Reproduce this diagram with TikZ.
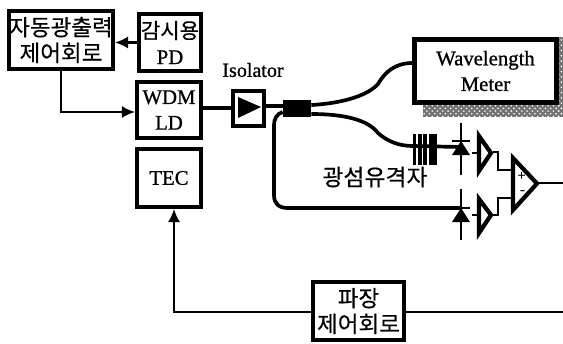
\documentclass[tikz,border=0pt]{standalone}
\usepackage{fontspec}
\setmainfont{Liberation Serif}[RawFeature={embolden=0.9}]
\newfontfamily\kr{Noto Sans CJK KR}[RawFeature={embolden=0.4}]
\usetikzlibrary{arrows.meta,patterns}
\def\pu{0.02cm}
\tikzset{
  bx/.style={draw=black,line width=2.3pt,fill=white,inner sep=0pt,align=center,font=\fontsize{11.8}{14.6}\selectfont},
  sig/.style={draw=black,line width=1.2pt},
  fib/.style={draw=black,line width=2.1pt},
  tip/.style={-{Latex[length=7.5pt,width=7pt]}},
  lab/.style={inner sep=0pt,font=\fontsize{11.4}{14.6}\selectfont},
  tri/.style={draw=black,line width=2.4pt,fill=white,line join=miter}
}
\begin{document}
\begin{tikzpicture}[x=0.02cm,y=-0.02cm]
\useasboundingbox (0,0) rectangle (563,343);
% boxes
\node[bx,minimum width=104*\pu,minimum height=58*\pu] (apc) at (61,40) {{\kr\fontsize{12.8}{14.6}\selectfont 자동광출력}\\{\kr\fontsize{12.8}{14.6}\selectfont 제어회로}};
\node[bx,minimum width=62*\pu,minimum height=57*\pu] (pd) at (170,42.5) {{\kr\fontsize{12}{14.6}\selectfont 감시용}\\PD};
\node[bx,minimum width=64*\pu,minimum height=56*\pu] (ld) at (169,110) {WDM\\LD};
\node[bx,minimum width=64*\pu,minimum height=58*\pu] (tec) at (169,178) {TEC};
\node[bx,minimum width=31*\pu,minimum height=35*\pu] (iso) at (248.5,108.5) {};
\node[lab] (isolbl) at (253,70) {Isolator};
\fill[black] (238,97) -- (261,107) -- (238,118) -- cycle;
% wavelength meter with shadow
\fill[black!55] (423,104) rectangle (563,117);
\fill[black!55] (556,37) rectangle (563,117);
\fill[pattern=crosshatch dots,pattern color=white] (423,104) rectangle (563,117);
\fill[pattern=crosshatch dots,pattern color=white] (556,37) rectangle (563,117);
\node[bx,minimum width=142*\pu,minimum height=63*\pu] (wm) at (485.5,71) {Wavelength\\Meter};
% coupler
\node[fill=black,inner sep=0pt,minimum width=28*\pu,minimum height=17*\pu] (cpl) at (297,108.5) {};
% grating
\coordinate (gin) at (413,146);
\coordinate (d1a) at (461,147);
\coordinate (d2a) at (461,208);
% fibres
\draw[fib] (ld.east |- 0,108) -- (iso.west |- 0,108);
\draw[fib] (iso.east |- 0,106) -- (cpl.west |- 0,106);
\draw[fib] (cpl.east |- 0,105) .. controls (345,103) and (368,95) .. (378,84) .. controls (385,72) and (395,63) .. (wm.west |- 0,63);
\draw[fib] (cpl.east |- 0,114) .. controls (345,114) and (368,120) .. (378,133) .. controls (388,142) and (400,146) .. (gin) -- (d1a);
\draw[fib] (cpl.west |- 0,112) .. controls (277,114) and (274,118) .. (274,126) -- (274,195) .. controls (274,204) and (279,208) .. (288,208) -- (d2a);
\foreach \x in {414.5,420,425,431,435}
  \draw[black,line width=2pt] (\x,134) -- (\x,165);
\node[lab,font=\kr\fontsize{13}{14}\selectfont] (fbg) at (375,177) {광섬유격자};
% photodiodes
\coordinate (d1t) at (461,123); \coordinate (d1b) at (461,175);
\coordinate (d2t) at (461,189); \coordinate (d2b) at (461,240);
\draw[sig] (d1t) -- (d1b);
\draw[sig] (d2t) -- (d2b);
\draw[black,line width=1.2pt] (452,141) -- (470,141);
\draw[black,line width=1.2pt] (452,208) -- (470,208);
\fill[black] (461,141) -- (470,155) -- (452,155) -- cycle;
\fill[black] (461,208) -- (470,222) -- (452,222) -- cycle;
% amplifiers
\coordinate (a1o) at (493,152); \coordinate (a2o) at (493,215);
\coordinate (dp) at (512,170); \coordinate (dm) at (512,198);
\coordinate (dout) at (539,183); \coordinate (rend) at (563,183);
\draw[sig] (a1o) -- (498,152) -- (498,170) -- (dp);
\draw[sig] (a2o) -- (498,215) -- (498,198) -- (dm);
\draw[sig] (dout) -- (rend);
\draw[tri] (479,136) -- (479,171) -- (491,153) -- cycle;
\draw[tri] (479,199) -- (479,233) -- (491,215) -- cycle;
\draw[black,line width=1.2pt] (472,153) -- (479,153);
\draw[black,line width=1.2pt] (472,215) -- (479,215);
\draw[tri] (513,158) -- (513,210) -- (537,183.5) -- cycle;
\node[inner sep=0pt,font=\fontsize{8}{8}\selectfont] (plus) at (521.5,176) {+};
\node[inner sep=0pt,font=\fontsize{8}{8}\selectfont] (minus) at (522.5,192) {-};
% control box
\node[bx,minimum width=91*\pu,minimum height=58*\pu] (wc) at (358.5,311) {{\kr\fontsize{12.8}{15.5}\selectfont 파장}\\{\kr\fontsize{12.8}{15.5}\selectfont 제어회로}};
\coordinate (wcr) at (563,312);
\coordinate (wcl) at (174,312);
% signals
\draw[sig,tip] (pd.west) -- (apc.east |- pd.west);
\draw[sig,tip] (61,69) -- (61,112) -- (ld.west |- 0,112);
\draw[sig] (wc.east |- wcr) -- (wcr);
\draw[sig,tip] (wc.west |- wcl) -- (wcl) -- (wcl |- tec.south);
\end{tikzpicture}
\end{document}
